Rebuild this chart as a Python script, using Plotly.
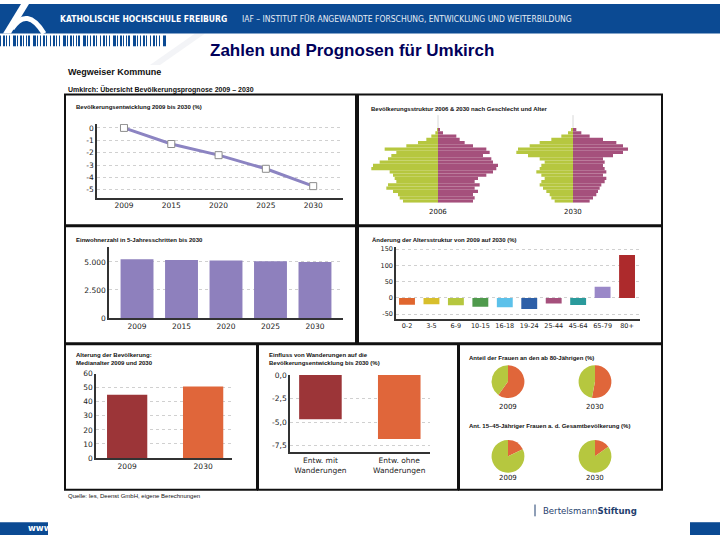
import plotly.graph_objects as go

W, H = 720, 540
def X(p): return p / W
def Y(p): return 1 - p / H

# ---------------- data ----------------
years = ["2009", "2015", "2020", "2025", "2030"]
bev_entwicklung = [0.0, -1.3, -2.2, -3.3, -4.7]
einwohner = [5230, 5160, 5115, 5055, 4985]

pyr_ages = [f"{a}-{a+3}" for a in range(0, 92, 4)]
pyr_2006_m = [105, 115, 120, 135, 155, 150, 125, 130, 135, 145, 200, 195, 175, 150, 140, 125, 160, 95, 60, 35, 20, 8, 3]
pyr_2006_w = [105, 110, 105, 120, 110, 125, 110, 120, 145, 165, 175, 185, 165, 160, 135, 155, 145, 105, 80, 65, 55, 15, 5]
pyr_2030_m = [55, 65, 70, 80, 90, 100, 95, 85, 95, 110, 100, 95, 85, 100, 135, 170, 165, 130, 100, 65, 35, 15, 5]
pyr_2030_w = [50, 60, 70, 75, 80, 85, 95, 100, 90, 100, 95, 90, 95, 90, 120, 150, 165, 150, 130, 90, 50, 25, 10]

alter_gruppen = ["0-2", "3-5", "6-9", "10-15", "16-18", "19-24", "25-44", "45-64", "65-79", "80+"]
alter_aenderung = [-21, -20, -23, -27, -29, -34, -17, -22, 34, 132]
alter_farben = ["#e0662e", "#d8bf2c", "#b6c73f", "#4f9a4c", "#5cc1ea", "#2d5fa8", "#a5507c", "#2a9a9c", "#9a88c8", "#ad2a2c"]

median_jahre = ["2009", "2030"]
median_alter = [45.1, 50.9]

wand_labels = ["Entw. mit<br>Wanderungen", "Entw. ohne<br>Wanderungen"]
wand_werte = [-4.7, -6.8]

pie_labels = ["Frauen", "Andere"]
frauen80_2009 = [60, 40]
frauen80_2030 = [53, 47]
frauen1545_2009 = [18, 82]
frauen1545_2030 = [15, 85]

GREEN = "#b6c73f"
PINK = "#a5507c"
ORANGE = "#e0663a"
DARKRED = "#9c3538"
LILA = "#8e80bd"
BLUE = "#0b4a93"

fig = go.Figure()

# panel 1: line
fig.add_trace(go.Scatter(x=years, y=bev_entwicklung, mode="lines+markers",
                         line=dict(color="#8c84c2", width=3),
                         marker=dict(symbol="square", size=7, color="white",
                                     line=dict(color="#8c8c8c", width=1)),
                         xaxis="x", yaxis="y", hoverinfo="x+y"))

# panel 2: pyramids
fig.add_trace(go.Bar(x=[-v for v in pyr_2006_m], y=pyr_ages, orientation="h", width=1,
                     marker=dict(color=GREEN, line=dict(width=0)), xaxis="x2", yaxis="y2"))
fig.add_trace(go.Bar(x=pyr_2006_w, y=pyr_ages, orientation="h", width=1,
                     marker=dict(color=PINK, line=dict(width=0)), xaxis="x2", yaxis="y2"))
fig.add_trace(go.Bar(x=[-v for v in pyr_2030_m], y=pyr_ages, orientation="h", width=1,
                     marker=dict(color=GREEN, line=dict(width=0)), xaxis="x3", yaxis="y3"))
fig.add_trace(go.Bar(x=pyr_2030_w, y=pyr_ages, orientation="h", width=1,
                     marker=dict(color=PINK, line=dict(width=0)), xaxis="x3", yaxis="y3"))

# panel 3: inhabitants
fig.add_trace(go.Bar(x=years, y=einwohner, width=0.74, marker=dict(color=LILA, line=dict(width=0)),
                     xaxis="x4", yaxis="y4"))

# panel 4: age structure change
fig.add_trace(go.Bar(x=alter_gruppen, y=alter_aenderung, width=0.65,
                     marker=dict(color=alter_farben, line=dict(width=0)), xaxis="x5", yaxis="y5"))

# panel 5: median age
fig.add_trace(go.Bar(x=median_jahre, y=median_alter, width=0.53,
                     marker=dict(color=[DARKRED, ORANGE], line=dict(width=0)), xaxis="x6", yaxis="y6"))

# panel 6: migration
fig.add_trace(go.Bar(x=wand_labels, y=wand_werte, width=0.54,
                     marker=dict(color=[DARKRED, ORANGE], line=dict(width=0)), xaxis="x7", yaxis="y7"))

# panel 7: pies
def pie(vals, cx, cy, r=16.7):
    return go.Pie(values=vals, labels=pie_labels, sort=False, direction="clockwise", rotation=0,
                  marker=dict(colors=[ORANGE, GREEN], line=dict(width=0)),
                  textinfo="none", showlegend=False,
                  domain=dict(x=[X(cx - r), X(cx + r)], y=[Y(cy + r), Y(cy - r)]))

fig.add_trace(pie(frauen80_2009, 508, 384))
fig.add_trace(pie(frauen80_2030, 595, 384))
fig.add_trace(pie(frauen1545_2009, 508, 460))
fig.add_trace(pie(frauen1545_2030, 595, 460))

tickf = dict(family="DejaVu Sans", size=7.5, color="#222")
base = dict(showline=True, linecolor="#333", linewidth=1.5, ticks="", zeroline=False,
            tickfont=tickf, fixedrange=True, showgrid=False)
grid = dict(showgrid=True, gridcolor="#d0d0d0", griddash="dot", gridwidth=1)

layout = dict(
    width=W, height=H, margin=dict(l=0, r=0, t=0, b=0),
    paper_bgcolor="white", plot_bgcolor="white", showlegend=False,
    barmode="relative",
    xaxis=dict(base, domain=[X(97), X(343)], anchor="y", type="category", range=[-0.57, 4.63]),
    yaxis=dict(base, **grid, domain=[Y(197), Y(122)], anchor="x", range=[-5.635, 0.317],
               tickvals=[0, -1, -2, -3, -4, -5], ticktext=["0", "-1", "-2", "-3", "-4", "-5"]),
    xaxis2=dict(domain=[X(363), X(513)], anchor="y2", range=[-225, 225], visible=False, fixedrange=True),
    yaxis2=dict(domain=[Y(202), Y(126)], anchor="x2", range=[-0.5, 22.5], visible=False, type="category", fixedrange=True),
    xaxis3=dict(domain=[X(498), X(648)], anchor="y3", range=[-225, 225], visible=False, fixedrange=True),
    yaxis3=dict(domain=[Y(202), Y(126)], anchor="x3", range=[-0.5, 22.5], visible=False, type="category", fixedrange=True),
    xaxis4=dict(base, domain=[X(109), X(343)], anchor="y4", type="category", range=[-0.63, 4.63]),
    yaxis4=dict(base, **grid, domain=[Y(319.3), Y(247)], anchor="x4", range=[0, 6340],
                tickvals=[0, 2500, 5000], ticktext=["0", "2.500", "5.000"]),
    xaxis5=dict(base, domain=[X(396), X(640)], anchor="y5", type="category", range=[-0.45, 9.53],
                tickfont=dict(family="DejaVu Sans", size=6.5, color="#222")),
    yaxis5=dict(base, **grid, domain=[Y(320), Y(247)], anchor="x5", range=[-64, 157],
                tickvals=[-50, 0, 50, 100, 150], ticktext=["-50", "0", "50", "100", "150"],
                tickfont=dict(family="DejaVu Sans", size=6.5, color="#222")),
    xaxis6=dict(base, domain=[X(96), X(232)], anchor="y6", type="category", range=[-0.41, 1.38]),
    yaxis6=dict(base, **grid, domain=[Y(461.7), Y(376)], anchor="x6", range=[0, 60], dtick=10),
    xaxis7=dict(base, domain=[X(290), X(430)], anchor="y7", type="category", range=[-0.386, 1.39]),
    yaxis7=dict(base, **grid, domain=[Y(455.7), Y(377.3)], anchor="x7", range=[-8.2, 0],
                tickvals=[0, -2.5, -5, -7.5], ticktext=["0,0", "-2,5", "-5,0", "-7,5"]),
)
fig.update_layout(**layout)

shapes = []
def rect(x0, y0, x1, y1, fill=None, line=None, lw=0):
    d = dict(type="rect", xref="paper", yref="paper", x0=X(x0), x1=X(x1), y0=Y(y1), y1=Y(y0), layer="above")
    if fill: d["fillcolor"] = fill
    d["line"] = dict(color=line or "rgba(0,0,0,0)", width=lw)
    return d

# header
shapes.append(rect(0, 0, 720, 30, fill=BLUE))
def P(pts):
    return "M " + " L ".join(f"{X(a):.5f},{Y(b):.5f}" for a, b in pts) + " Z"
shapes.append(dict(type="path", xref="paper", yref="paper", path=P([(3, 30), (11, 30), (29, 0), (21, 0)]),
                   fillcolor="white", line=dict(width=0)))
shapes.append(dict(type="path", xref="paper", yref="paper",
                   path=f"M {X(12):.5f},{Y(25):.5f} Q {X(27):.5f},{Y(2):.5f} {X(44):.5f},{Y(30):.5f}",
                   line=dict(color="white", width=5)))
# faint watermark swoosh
shapes.append(dict(type="path", xref="paper", yref="paper", layer="below",
                   path=P([(150, 62), (160, 62), (205, 30), (195, 30)]),
                   fillcolor="#f3f4f7", line=dict(width=0)))
# barcode stripes
bw = [1, 2, 1, 1, 3, 1, 2, 1, 1, 2, 3, 1, 1, 2, 1]
gp = [2, 1, 2, 3, 1, 2, 1, 2, 1, 3, 1, 2, 2, 1, 3]
xx, i = 0.0, 0
while xx < 166:
    w = bw[i % len(bw)]
    shapes.append(rect(xx, 32, min(xx + w, 167), 43, fill=BLUE))
    xx += w + gp[i % len(gp)]
    i += 1
# bottom bands
shapes.append(rect(0, 527, 48, 540, fill=BLUE))
shapes.append(rect(690, 527, 720, 540, fill=BLUE))
shapes.append(dict(type="line", xref="paper", yref="paper", x0=X(535), x1=X(535), y0=Y(509), y1=Y(521),
                   line=dict(color="#1f3e6e", width=1)))
# panel boxes
for (a, b, c, d) in [(65, 92, 356, 225), (358, 92, 662, 225), (65, 226, 356, 345), (358, 226, 662, 345),
                     (65, 346, 257, 494), (258, 346, 458, 494), (459, 346, 662, 494)]:
    shapes.append(rect(a, b, c, d, line="#111", lw=2))
# pyramid centre lines
for ax in ["x2", "x3"]:
    shapes.append(dict(type="line", xref=ax, yref="paper", x0=0, x1=0, y0=Y(202), y1=Y(113),
                       line=dict(color="#d8d8d8", width=1), layer="below"))
fig.update_layout(shapes=shapes)

ann = []
def T(txt, x, y, size=6, family="Liberation Sans", color="#111", xa="left", bold=False):
    ann.append(dict(text=f"<b>{txt}</b>" if bold else txt, x=X(x), y=Y(y), xref="paper", yref="paper",
                    xanchor=xa, yanchor="middle", showarrow=False, align="left",
                    font=dict(size=size, family=family, color=color)))

T("KATHOLISCHE HOCHSCHULE FREIBURG", 58, 15, size=8.5, family="DejaVu Sans Condensed", color="white", bold=True)
T("IAF – INSTITUT FÜR ANGEWANDTE FORSCHUNG, ENTWICKLUNG UND WEITERBILDUNG", 240, 15, size=8.5,
  family="DejaVu Sans Condensed", color="#e6ecf5")
T("Zahlen und Prognosen für Umkirch", 352, 47, size=17, color="#00005a", xa="center", bold=True)
T("Wegweiser Kommune", 66, 69, size=9, bold=True)
T("Umkirch: Übersicht Bevölkerungsprognose 2009 – 2030", 66, 87, size=7, bold=True)
T("Bevölkerungsentwicklung 2009 bis 2030 (%)", 74, 105, size=6, bold=True)
T("Bevölkerungsstruktur 2006 & 2030 nach Geschlecht und Alter", 369, 107, size=6, bold=True)
T("2006", 438, 212, size=7, family="DejaVu Sans", xa="center")
T("2030", 573, 212, size=7, family="DejaVu Sans", xa="center")
T("Einwohnerzahl in 5-Jahresschritten bis 2030", 74, 240, size=6, bold=True)
T("Änderung der Altersstruktur von 2009 auf 2030 (%)", 370, 240, size=6, bold=True)
T("Alterung der Bevölkerung:<br>Medianalter 2009 und 2030", 74, 361, size=6, bold=True)
T("Einfluss von Wanderungen auf die<br>Bevölkerungsentwicklung bis 2030 (%)", 267, 361, size=6, bold=True)
T("Anteil der Frauen an den ab 80-Jährigen (%)", 467, 360, size=6, bold=True)
T("Ant. 15–45-Jähriger Frauen a. d. Gesamtbevölkerung (%)", 467, 429, size=6, bold=True)
for cx in (508, 595):
    T("2009" if cx == 508 else "2030", cx, 410, size=7, family="DejaVu Sans", xa="center")
    T("2009" if cx == 508 else "2030", cx, 482, size=7, family="DejaVu Sans", xa="center")
T("Quelle: Ies, Deenst GmbH, eigene Berechnungen", 66, 500, size=6)
T("Bertelsmann<b>Stiftung</b>", 541, 515, size=9.5, family="DejaVu Sans Condensed", color="#1f3e6e")
T("www", 26, 533, size=8.5, family="DejaVu Sans", color="white", bold=True)
fig.update_layout(annotations=ann)

fig.write_html("out.html", config={"displayModeBar": False},
               post_script="document.body.style.margin='0px';document.body.style.overflow='hidden';")
